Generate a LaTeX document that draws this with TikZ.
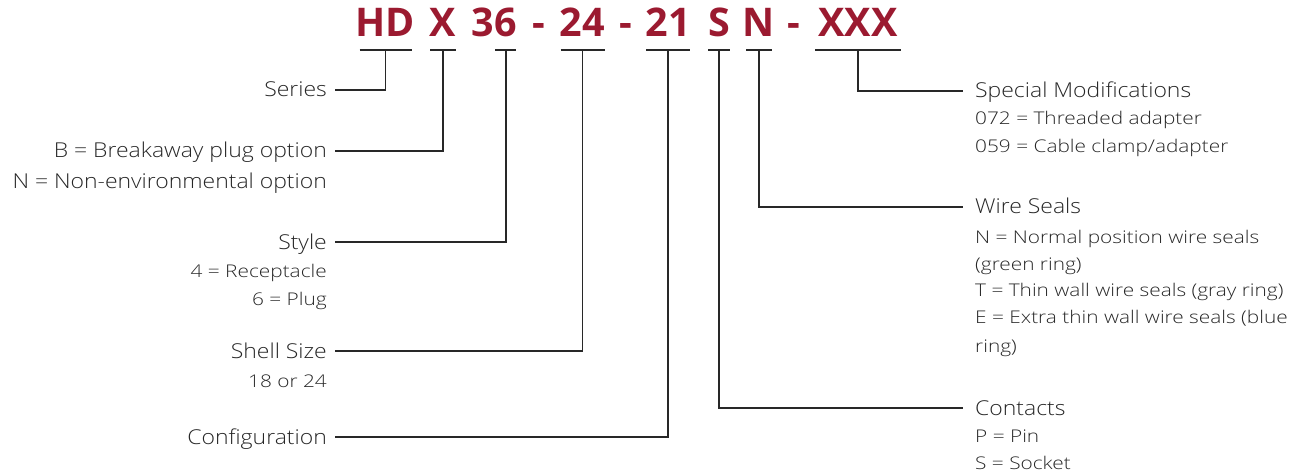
\documentclass[tikz,border=0pt]{standalone}
\usepackage{fontspec}
\setmainfont{Open Sans}[UprightFont={* Light},BoldFont={* Bold}]
\newfontfamily\headfont{Open Sans}[UprightFont={* Light},FakeStretch=1.12]
\newfontfamily\itemfont{Open Sans}[UprightFont={* Light},FakeStretch=1.19]
\usepackage{xcolor}
\usetikzlibrary{positioning}
\definecolor{codered}{RGB}{155,26,48}
\definecolor{leadgray}{RGB}{40,40,40}
\definecolor{labelgray}{RGB}{38,38,38}

\begin{document}
\begin{tikzpicture}[
  x=1pt, y=-1pt,
  code/.style={inner sep=0pt, anchor=base, text=codered, font=\bfseries\fontsize{39.5}{40}\selectfont},
  head/.style={inner ysep=0pt, text height=14pt, text depth=0pt, text=labelgray, font=\headfont\fontsize{20.5}{21}\selectfont},
  lhead/.style={head, inner xsep=8pt, anchor=base east},
  rhead/.style={head, inner xsep=12pt, anchor=base west},
  item/.style={inner ysep=0pt, text=labelgray, font=\itemfont\fontsize{17.5}{18}\selectfont},
  litem/.style={item, inner xsep=8pt},
  ritem/.style={item, inner xsep=12pt},
  lead/.style={draw=leadgray, line width=1.8pt}
]
\useasboundingbox (0,0) rectangle (1294,476);

% part number
\node[code] (cHD) at (385.5,37) {HD};
\node[code] (cX) at (443,37) {X};
\node[code] (c36) at (494,37) {36};
\node[code] (dash1) at (538.5,37) {-};
\node[code] (c24) at (582.5,37) {24};
\node[code] (dash2) at (625.5,37) {-};
\node[code] (c21) at (668,37) {21};
\node[code] (cS) at (719,37) {S};
\node[code] (cN) at (759,37) {N};
\node[code] (dash3) at (794,37) {-};
\node[code] (cXXX) at (858,37) {XXX};

% underlines
\foreach \c/\w in {cHD/26, cX/13, c24/22, c21/22, cS/11, cN/13, cXXX/43}
  \draw[lead] ([xshift=-\w pt, yshift=-13pt]\c.base) -- ([xshift=\w pt, yshift=-13pt]\c.base);
\draw[lead] ([xshift=1pt, yshift=-13pt]c36.base) -- ([xshift=22pt, yshift=-13pt]c36.base);

% left labels
\node[lhead] (series) at (335,97) {Series};
\node[lhead] (brk) at (335,158) {B = Breakaway plug option};
\node[lhead, below=31pt of brk.base east, anchor=base east] (env) {N = Non-environmental option};
\node[lhead] (style) at (335,249) {Style};
\node[litem, below=28pt of style.base east, anchor=base east] (rcpt) {4 = Receptacle};
\node[litem, below=28pt of rcpt.base east, anchor=base east] (plug) {6 = Plug};
\node[lhead] (shell) at (335,358) {Shell Size};
\node[litem, below=29pt of shell.base east, anchor=base east] (sizes) {18 or 24};
\node[lhead] (config) at (335,444) {Configuration};

% right labels
\node[rhead] (smod) at (963,98) {Special Modifications};
\node[ritem, below=27pt of smod.base west, anchor=base west] (thread) {072 = Threaded adapter};
\node[ritem, below=28pt of thread.base west, anchor=base west] (clamp) {059 = Cable clamp/adapter};
\node[rhead] (wseal) at (963,214) {Wire Seals};
\node[ritem, below=29pt of wseal.base west, anchor=base west] (normal) {N = Normal position wire seals};
\node[ritem, below=27pt of normal.base west, anchor=base west] (green) {(green ring)};
\node[ritem, below=26pt of green.base west, anchor=base west] (thin) {T = Thin wall wire seals (gray ring)};
\node[ritem, below=27pt of thin.base west, anchor=base west] (extra) {E = Extra thin wall wire seals (blue};
\node[ritem, below=29pt of extra.base west, anchor=base west] (blue) {ring)};
\node[rhead] (cont) at (963,415) {Contacts};
\node[ritem, below=27pt of cont.base west, anchor=base west] (pin) {P = Pin};
\node[ritem, below=27pt of pin.base west, anchor=base west] (socket) {S = Socket};

% leaders
\draw[lead] ([yshift=-13pt]cHD.base) |- (series.east);
\draw[lead] ([yshift=-13pt]cX.base) |- (brk.east);
\draw[lead] ([xshift=12pt, yshift=-13pt]c36.base) |- (style.east);
\draw[lead] ([yshift=-13pt]c24.base) |- (shell.east);
\draw[lead] ([yshift=-13pt]c21.base) |- (config.east);
\draw[lead] ([yshift=-13pt]cS.base) |- (cont.west);
\draw[lead] ([yshift=-13pt]cN.base) |- (wseal.west);
\draw[lead] ([yshift=-13pt]cXXX.base) |- (smod.west);
\end{tikzpicture}
\end{document}
